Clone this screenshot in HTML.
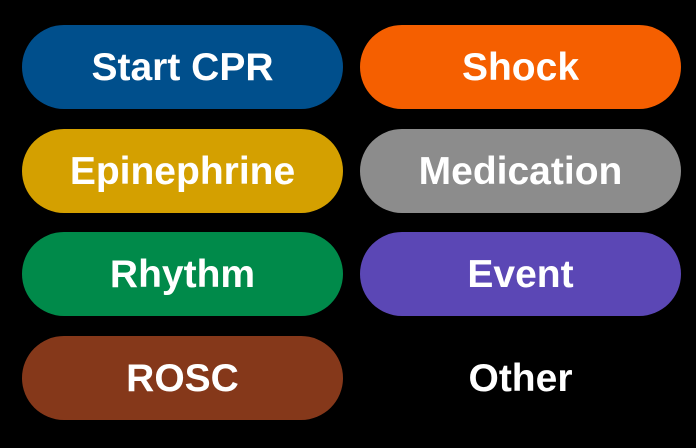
<!DOCTYPE html>
<html><head><meta charset="utf-8"><style>
html,body{margin:0;padding:0;background:#000;width:696px;height:448px;overflow:hidden}
.b{position:absolute;width:321px;height:84px;border-radius:42px;color:#fff;font-family:"Liberation Sans",sans-serif;font-weight:bold;font-size:39px;display:flex;align-items:center;justify-content:center;border:none;padding:0;padding-top:2px;box-sizing:border-box}
</style></head><body>
<button class="b" style="left:22px;top:25px;background:#004f8c">Start CPR</button>
<button class="b" style="left:360px;top:25px;background:#f55f00">Shock</button>
<button class="b" style="left:22px;top:129px;background:#d4a000">Epinephrine</button>
<button class="b" style="left:360px;top:129px;background:#8c8c8c">Medication</button>
<button class="b" style="left:22px;top:232px;background:#008a4a">Rhythm</button>
<button class="b" style="left:360px;top:232px;background:#5b47b5">Event</button>
<button class="b" style="left:22px;top:336px;background:#85381a">ROSC</button>
<button class="b" style="left:360px;top:336px;background:transparent">Other</button>
</body></html>
